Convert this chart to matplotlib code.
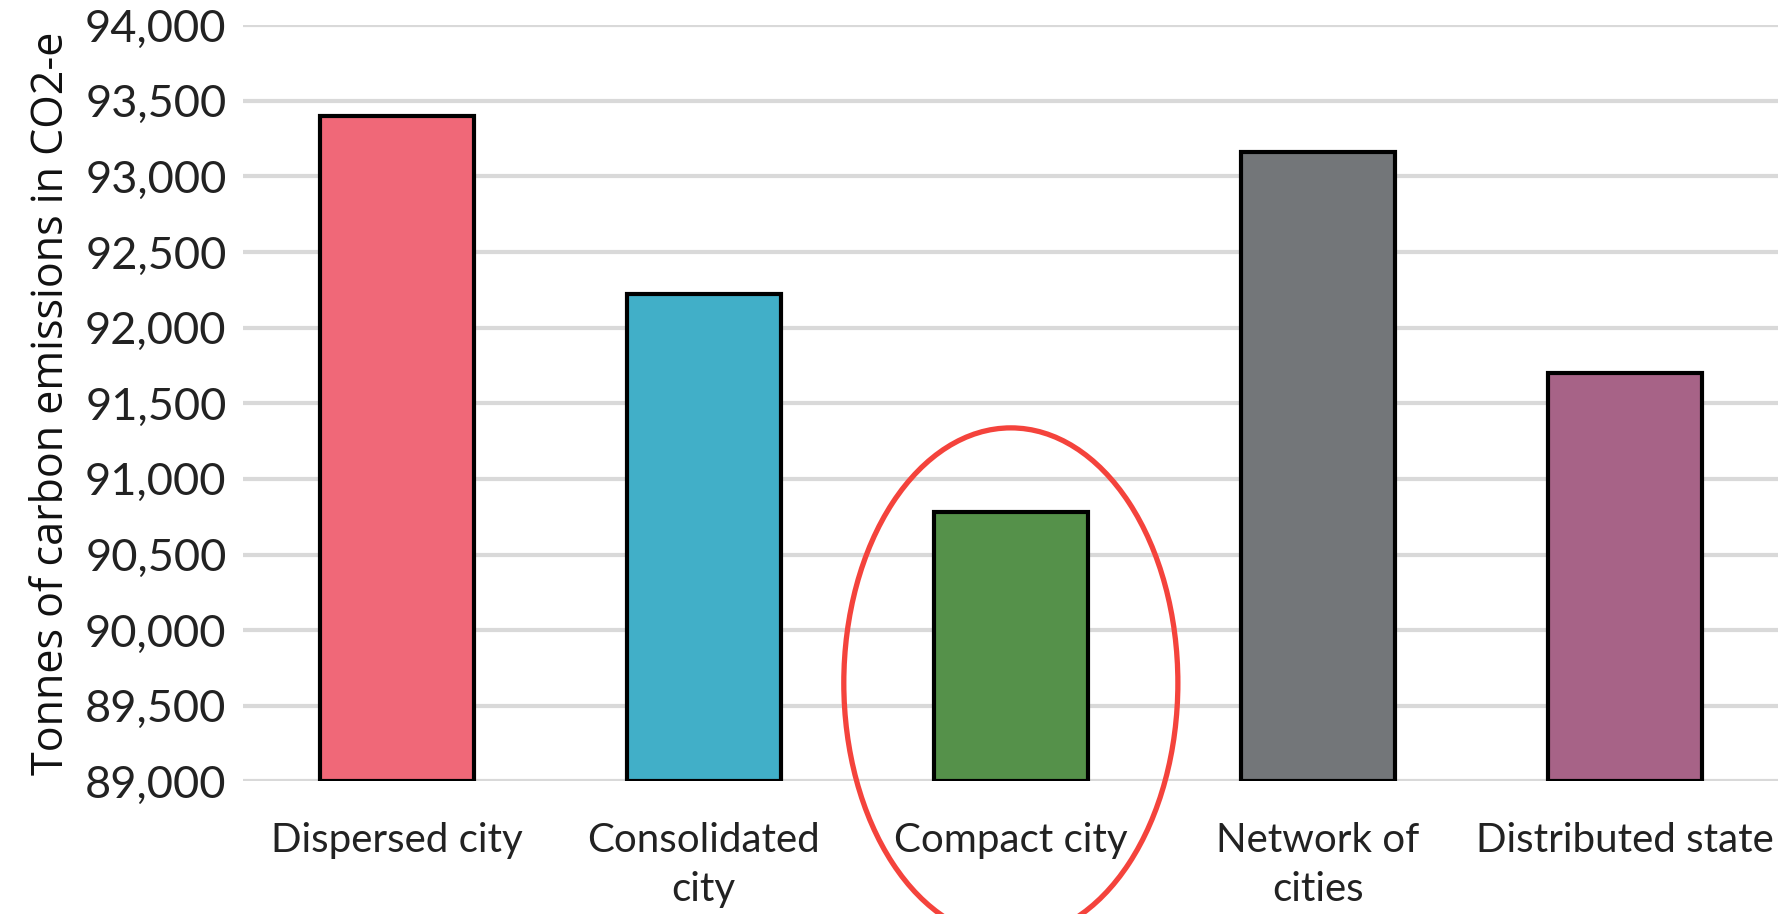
import matplotlib
matplotlib.use("Agg")
import matplotlib.pyplot as plt
from matplotlib.patches import Ellipse
from matplotlib.ticker import FuncFormatter

categories = ["Dispersed city", "Consolidated\ncity", "Compact city", "Network of\ncities", "Distributed state"]
values = [93400, 92220, 90780, 93160, 91700]
colors = ["#F06878", "#41AFC8", "#55914A", "#737679", "#A76387"]
yticks = [89000, 89500, 90000, 90500, 91000, 91500, 92000, 92500, 93000, 93500, 94000]
highlight_index = 2

tick_font = ["Lato", "DejaVu Sans"]
label_font = ["Open Sans", "DejaVu Sans"]

fig = plt.figure(figsize=(17.91, 9.14), dpi=100)
ax = fig.add_axes([0.1358, 0.145, 0.993 - 0.1358, 0.9725 - 0.145])

x = list(range(len(categories)))
ax.bar(x, [v - yticks[0] for v in values], bottom=yticks[0], width=0.5,
       color=colors, edgecolor="black", linewidth=3, zorder=3)

ax.set_xlim(-0.5, len(categories) - 0.5)
ax.set_ylim(yticks[0], yticks[-1])
ax.set_yticks(yticks)
ax.yaxis.set_major_formatter(FuncFormatter(lambda v, p: f"{int(v):,}"))
ax.set_xticks(x)
ax.set_xticklabels(categories, fontsize=29, family=tick_font, linespacing=1.42)
for t in ax.get_yticklabels():
    t.set_fontsize(32.5)
    t.set_family(tick_font)
    t.set_color("#222222")
for t in ax.get_xticklabels():
    t.set_color("#222222")

ax.tick_params(axis="both", length=0)
ax.tick_params(axis="x", pad=29)
ax.tick_params(axis="y", pad=12)
for s in ax.spines.values():
    s.set_visible(False)
ax.grid(axis="y", color="#D9D9D9", linewidth=3, zorder=0)
ax.set_axisbelow(True)

ax.set_ylabel("Tonnes of carbon emissions in CO2-e", fontsize=31, family=label_font,
              color="#111111", labelpad=8)

# red ellipse around the highlighted bar
ell = Ellipse((highlight_index, 89651), width=1.088, height=3373, fill=False,
              edgecolor="#F4433C", linewidth=3.8, clip_on=False, zorder=5)
ax.add_patch(ell)

fig.savefig("out.png", dpi=100)
